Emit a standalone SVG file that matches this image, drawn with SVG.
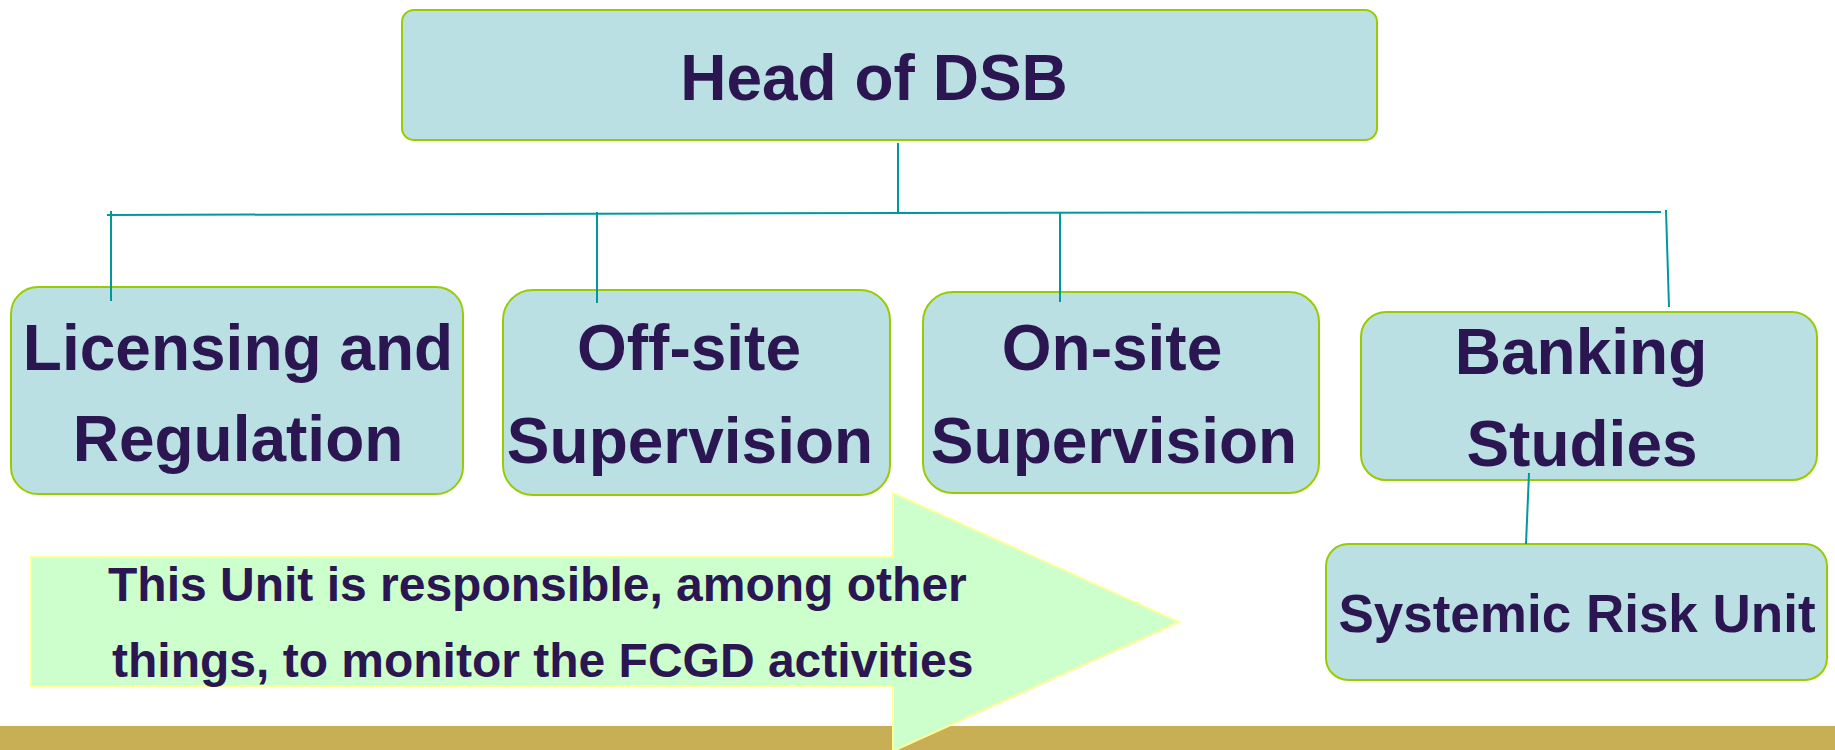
<svg xmlns="http://www.w3.org/2000/svg" width="1835" height="750" viewBox="0 0 1835 750">
<style>
.box{fill:#BAE0E3;stroke:#99CC00;stroke-width:2}
.t{font-family:"Liberation Sans",Arial,sans-serif;font-weight:bold;fill:#2B1651;text-anchor:middle}
.c{stroke:#009999;stroke-width:2;fill:none}
</style>
<rect x="0" y="726" width="1835" height="24" fill="#C8AF55"/>
<g id="head">
<rect class="box" x="402" y="10" width="975" height="130" rx="12"/>
<text class="t" x="874" y="100" font-size="64">Head of DSB</text>
</g>
<g id="licensing">
<rect class="box" x="11" y="287" width="452" height="207" rx="27"/>
<text class="t" x="238" y="370" font-size="64">Licensing and</text>
<text class="t" x="238" y="461" font-size="64">Regulation</text>
</g>
<g id="offsite">
<rect class="box" x="503" y="290" width="387" height="205" rx="30"/>
<text class="t" x="689" y="370" font-size="64">Off-site</text>
<text class="t" x="690" y="463" font-size="64">Supervision</text>
</g>
<g id="onsite">
<rect class="box" x="923" y="292" width="396" height="201" rx="30"/>
<text class="t" x="1112" y="370" font-size="64">On-site</text>
<text class="t" x="1114" y="463" font-size="64">Supervision</text>
</g>
<g id="banking">
<rect class="box" x="1361" y="312" width="456" height="168" rx="25"/>
<text class="t" x="1581" y="374" font-size="64">Banking</text>
<text class="t" x="1582" y="466" font-size="64">Studies</text>
</g>
<g id="systemic">
<rect class="box" x="1326" y="544" width="501" height="136" rx="22"/>
<text class="t" x="1577" y="632" font-size="53">Systemic Risk Unit</text>
</g>
<g id="connectors">
<polyline class="c" points="898,143 898,213"/>
<polyline class="c" points="107,215 898,213 1661,212"/>
<line class="c" x1="111" y1="211" x2="111" y2="301"/>
<line class="c" x1="597" y1="212" x2="597" y2="303"/>
<line class="c" x1="1060" y1="212" x2="1060" y2="302"/>
<line class="c" x1="1666" y1="210" x2="1669" y2="307"/>
<line class="c" x1="1529" y1="473" x2="1526" y2="544"/>
</g>
<g id="note">
<polygon points="31,557 893,557 893,493 1179,622 893,751 893,686 31,686" fill="#CCFFCC" stroke="#FFFF99" stroke-width="2"/>
<text class="t" x="108" y="601" font-size="48" style="text-anchor:start">This Unit is responsible, among other</text>
<text class="t" x="112" y="677" font-size="48" style="text-anchor:start">things, to monitor the FCGD activities</text>
</g>
</svg>
